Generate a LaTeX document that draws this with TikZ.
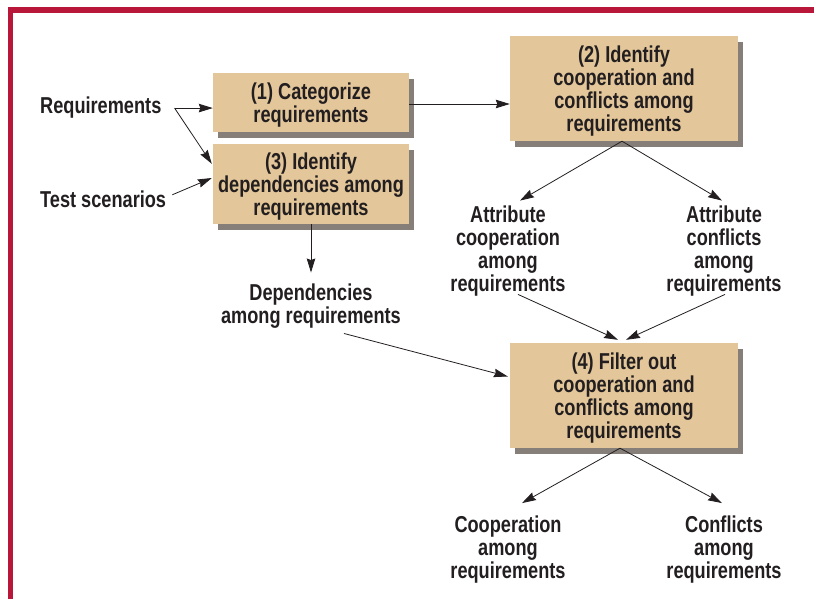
\documentclass[tikz,border=0pt]{standalone}
\usepackage{fontspec}
\setmainfont[FakeStretch=0.79]{Liberation Sans}
\usetikzlibrary{arrows.meta,shadows}
\definecolor{framered}{HTML}{B8173A}
\definecolor{boxtan}{HTML}{E3C699}
\definecolor{shadowgray}{HTML}{857E79}
\definecolor{inkdark}{HTML}{231F20}
% extra head room so box text sits a little lower
\newcommand\boxstrut{\rule{0pt}{22.5pt}}
\begin{document}
\begin{tikzpicture}[x=1pt,y=-1pt,
  txt/.style={font=\fontsize{23}{23}\selectfont\bfseries, text=inkdark},
  lbl/.style={txt, align=center, inner sep=0pt},
  stepbox/.style={txt, align=center, fill=boxtan, inner sep=0pt,
    drop shadow={shadow xshift=5pt, shadow yshift=-6pt, fill=shadowgray, opacity=1}},
  conn/.style={line width=0.8pt, draw=inkdark,
    -{Stealth[length=14pt,width=8.5pt,inset=1.5pt]}}
]
\useasboundingbox (0,0) rectangle (814,599);
% open frame
\fill[framered] (8,7) rectangle (814,13);
\fill[framered] (8,7) rectangle (13,599);

% process boxes
\node[stepbox, minimum width=196pt, minimum height=59pt] (b1) at (311,102.5)
  {\boxstrut(1) Categorize\\requirements};
\node[stepbox, minimum width=196pt, minimum height=80pt] (b3) at (311,184)
  {\boxstrut(3) Identify\\dependencies among\\requirements};
\node[stepbox, minimum width=228pt, minimum height=105pt] (b2) at (624,88.5)
  {\boxstrut(2) Identify\\cooperation and\\conflicts among\\requirements};
\node[stepbox, minimum width=228pt, minimum height=105pt] (b4) at (624,395.5)
  {\boxstrut(4) Filter out\\cooperation and\\conflicts among\\requirements};

% inputs and outputs
\node[lbl, anchor=base west] (req) at (40,114) {Requirements};
\node[lbl, anchor=base west] (test) at (40,207) {Test scenarios};
\node[lbl] (dep) at (311,306) {Dependencies\\among requirements};
\node[lbl] (ac) at (508,251) {Attribute\\cooperation\\among\\requirements};
\node[lbl] (af) at (724,251) {Attribute\\conflicts\\among\\requirements};
\node[lbl] (co) at (508,550) {Cooperation\\among\\requirements};
\node[lbl] (cf) at (724,550) {Conflicts\\among\\requirements};

% connectors
\coordinate (rq) at ([xshift=13pt]req.east);
\draw[conn] (rq) -- (rq -| b1.west);
\draw[conn] (rq) -- ([xshift=-1pt,yshift=-20pt]b3.north west);
\draw[conn] ([shift={(6pt,4pt)}]test.east) -- ([xshift=-1pt,yshift=6pt]b3.west);
\draw[conn] ([yshift=-1.5pt]b1.east) -- ([yshift=-1.5pt]b1.east -| b2.west);
\draw[conn] (b3.south) -- ([yshift=11pt]dep.north);
\draw[conn] ([shift={(33pt,-5pt)}]dep.south) -- ([shift={(-2pt,19pt)}]b4.west);
\draw[conn] ([xshift=-2pt]b2.south) -- ([shift={(12pt,5pt)}]ac.north);
\draw[conn] ([xshift=-2pt]b2.south) -- ([shift={(-2pt,5pt)}]af.north);
\draw[conn] ([shift={(10pt,2pt)}]ac.south) -- ([shift={(-6pt,3pt)}]b4.north);
\draw[conn] ([shift={(1pt,2pt)}]af.south) -- ([shift={(2pt,3pt)}]b4.north);
\draw[conn] ([xshift=-4pt]b4.south) -- ([shift={(14pt,13pt)}]co.north);
\draw[conn] ([xshift=-4pt]b4.south) -- ([shift={(-2pt,13pt)}]cf.north);
\end{tikzpicture}
\end{document}
